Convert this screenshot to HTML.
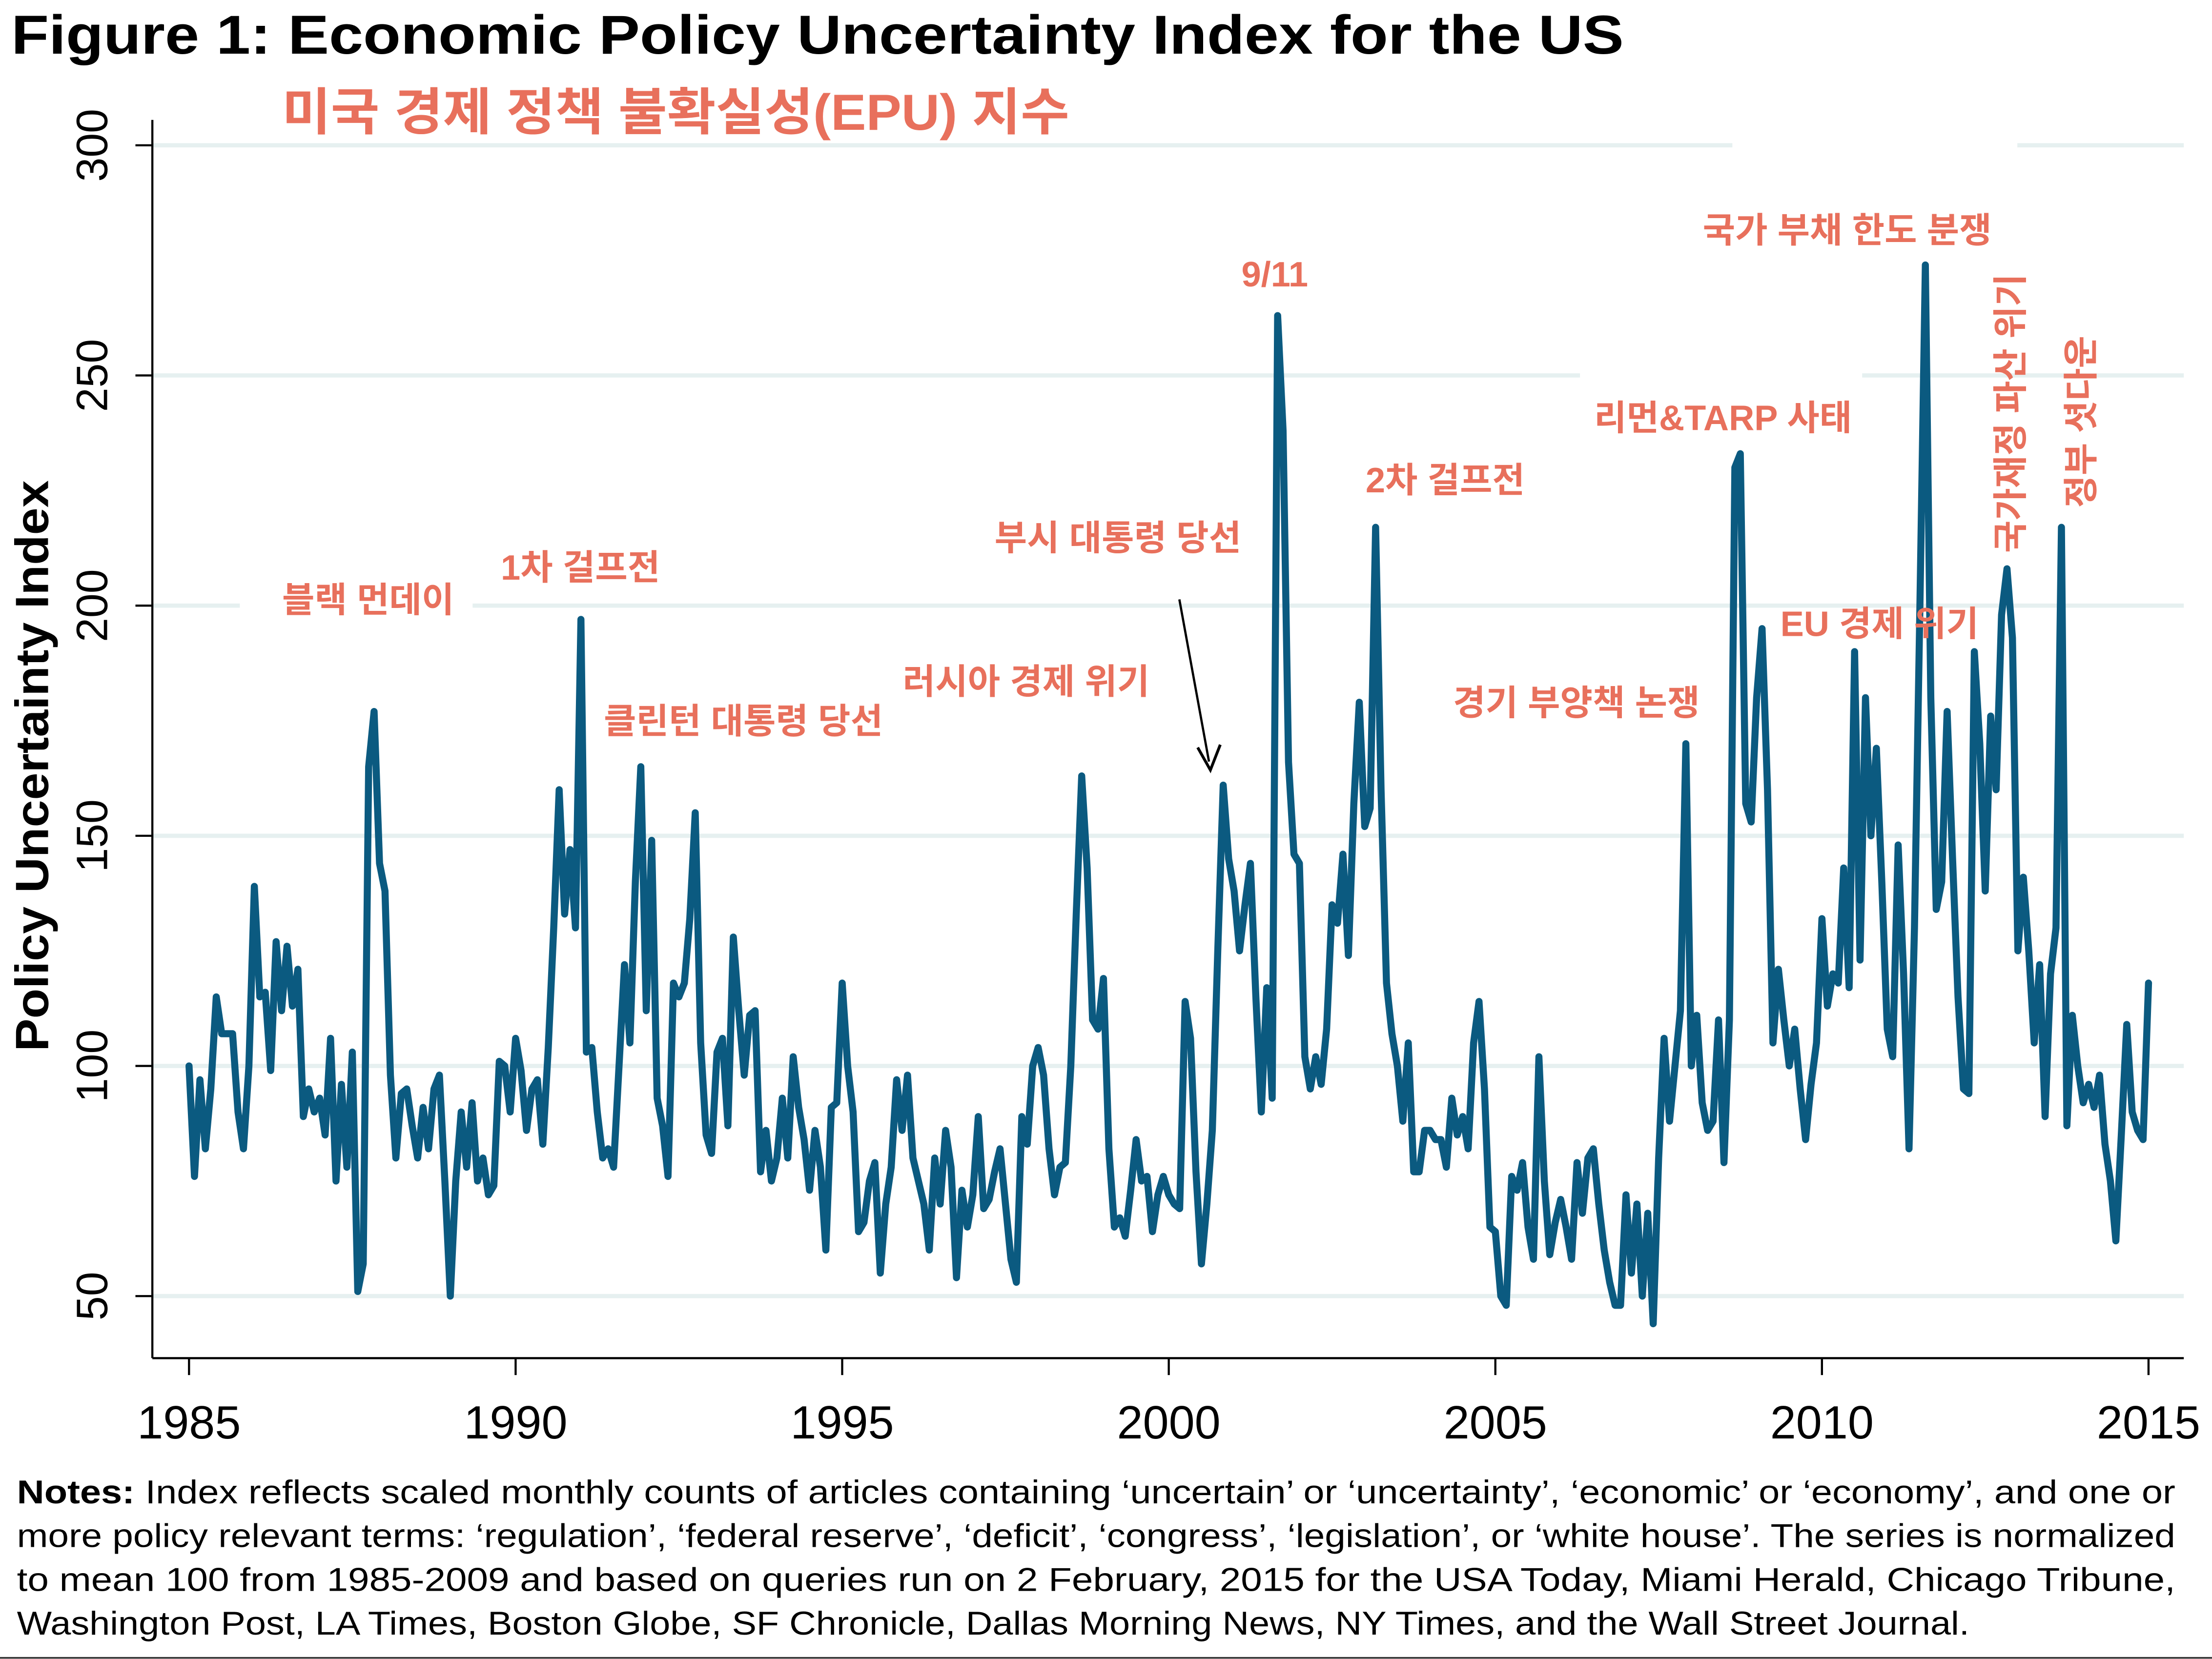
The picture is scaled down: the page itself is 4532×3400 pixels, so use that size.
<!DOCTYPE html>
<html><head><meta charset="utf-8"><style>
html,body{margin:0;padding:0;background:#fff;}
svg{display:block;}
text{font-family:"Liberation Sans","Noto Sans CJK KR",sans-serif;}
.ann{fill:#E8705C;font-weight:bold;font-size:25px;}
</style></head><body>
<svg id="chart" width="4532" height="3400" viewBox="0 0 1568 1176.3" xmlns="http://www.w3.org/2000/svg">
<rect x="0" y="0" width="1568" height="1176.3" fill="#fff"/>
<text x="8" y="38" font-size="39" font-weight="bold" textLength="1143" lengthAdjust="spacingAndGlyphs">Figure 1: Economic Policy Uncertainty Index for the US</text>
<text x="200" y="92" font-size="36" font-weight="bold" fill="#E8705C" textLength="558" lengthAdjust="spacingAndGlyphs">미국 경제 정책 불확실성(EPU) 지수</text>
<g id="grid"></g>
<g id="gaps">
<rect x="1228" y="98" width="202" height="10" fill="#fff"/>
<rect x="1120" y="262" width="200" height="10" fill="#fff"/>
<rect x="170" y="425" width="165" height="10" fill="#fff"/>
</g>
<g id="axes"></g>
<polyline id="series" fill="none" stroke="#0B5A80" stroke-width="5" stroke-linejoin="round" stroke-linecap="round"/>
<g>
<text class="ann" x="200" y="434">블랙 먼데이</text>
<text class="ann" x="355" y="411">1차 걸프전</text>
<text class="ann" x="428" y="520">클린턴 대통령 당선</text>
<text class="ann" x="640" y="492">러시아 경제 위기</text>
<text class="ann" x="705" y="390">부시 대통령 당선</text>
<text class="ann" x="880" y="203">9/11</text>
<text class="ann" x="968" y="349">2차 걸프전</text>
<text class="ann" x="1030" y="507">경기 부양책 논쟁</text>
<text class="ann" x="1130" y="305">리먼&amp;TARP 사태</text>
<text class="ann" x="1262" y="451">EU 경제 위기</text>
<text class="ann" x="1207" y="172">국가 부채 한도 분쟁</text>
<text class="ann" transform="translate(1434,392) rotate(-90)">국가재정 파산 위기</text>
<text class="ann" transform="translate(1484,360) rotate(-90)">정부 셧다운</text>
<line x1="836" y1="425" x2="857" y2="540" stroke="#000" stroke-width="1.6"/>
<polyline points="849,530 858,546 865,528" fill="none" stroke="#000" stroke-width="2"/>
</g>
<text transform="translate(34,543) rotate(-90)" text-anchor="middle" font-size="33" font-weight="bold" textLength="405" lengthAdjust="spacingAndGlyphs">Policy Uncertainty Index</text>
<g font-size="23.5">
<text x="12" y="1066" textLength="1530" lengthAdjust="spacingAndGlyphs"><tspan font-weight="bold">Notes:</tspan> Index reflects scaled monthly counts of articles containing ‘uncertain’ or ‘uncertainty’, ‘economic’ or ‘economy’, and one or</text>
<text x="12" y="1097" textLength="1530" lengthAdjust="spacingAndGlyphs">more policy relevant terms: ‘regulation’, ‘federal reserve’, ‘deficit’, ‘congress’, ‘legislation’, or ‘white house’. The series is normalized</text>
<text x="12" y="1128" textLength="1530" lengthAdjust="spacingAndGlyphs">to mean 100 from 1985-2009 and based on queries run on 2 February, 2015 for the USA Today, Miami Herald, Chicago Tribune,</text>
<text x="12" y="1159" textLength="1384" lengthAdjust="spacingAndGlyphs">Washington Post, LA Times, Boston Globe, SF Chronicle, Dallas Morning News, NY Times, and the Wall Street Journal.</text>
</g>
<line x1="0" y1="1175.5" x2="1568" y2="1175.5" stroke="#333" stroke-width="1.2"/>
</svg>
<script>
const yTicks = [50, 100, 150, 200, 250, 300];
const xTicks = [1985, 1990, 1995, 2000, 2005, 2010, 2015];
const startYear = 1985;
const epu1985_1994 = [
100,76,97,82,95,115,107,107,107,90,82,100,
139,115,116,99,127,112,126,113,121,89,95,90,
93,85,106,75,96,78,103,51,57,165,177,144,
138,98,80,94,95,87,80,91,82,95,98,75,
50,75,90,78,92,75,80,72,74,101,100,90,
106,99,86,95,97,83,104,130,160,133,147,130,
197,103,104,90,80,82,78,100,122,105,140,165,
112,149,93,87,76,118,115,118,132,155,105,85,
81,103,106,87,128,112,98,111,112,77,86,75,
80,93,80,102,91,84,73,86,78,60,91,92];
const epu1995_2004 = [
118,100,90,64,66,75,79,55,70,78,97,86,
98,80,75,70,60,80,70,86,78,54,73,65,
72,89,69,71,77,82,70,58,53,89,83,100,
104,98,82,72,78,79,100,133,163,143,110,108,
119,82,65,67,63,73,84,75,76,64,72,76,
72,70,69,114,106,77,57,70,86,125,161,145,
138,125,135,144,115,90,117,93,263,238,166,146,
144,102,95,102,96,108,135,131,146,124,157,179,
152,156,217,160,118,107,100,88,105,77,77,86,
86,84,84,78,93,85,89,82,105,114,95,65];
const epu2005_2015 = [
64,50,48,76,73,79,65,58,102,75,59,66,
71,65,58,79,68,80,82,70,60,53,48,48,
72,55,70,50,68,44,80,106,88,100,112,170,
100,111,92,86,88,110,79,110,230,233,157,153,
180,195,160,105,121,110,100,108,95,84,96,105,
132,113,120,118,143,117,190,123,180,150,169,140,
108,102,148,120,82,130,200,274,180,134,140,177,
145,115,95,94,190,170,138,176,160,198,208,193,
125,141,125,105,122,89,120,130,217,87,111,100,
92,96,91,98,83,75,62,85,109,90,86,84,
118];
const epu = epu1985_1994.concat(epu1995_2004, epu2005_2015);

const NS = "http://www.w3.org/2000/svg";
const xScale = yr => 134 + (yr - 1985) * (1523 - 134) / 30;
const yScale = v => 103 + (300 - v) * (919 - 103) / 250;
const plotL = 108, plotR = 1548, plotB = 963;

const grid = document.getElementById('grid');
yTicks.forEach(t => {
  const l = document.createElementNS(NS, 'line');
  
  
  l.setAttribute('x1', plotL); l.setAttribute('x2', plotR);
  l.setAttribute('y1', yScale(t)); l.setAttribute('y2', yScale(t));
  l.setAttribute('stroke', '#E6F0F0'); l.setAttribute('stroke-width', '3');
  grid.appendChild(l);
});
const axes = document.getElementById('axes');
function mk(tag, attrs){ const e = document.createElementNS(NS, tag); for (const k in attrs) e.setAttribute(k, attrs[k]); return e; }
const yAxis = mk('line', {x1: plotL, x2: plotL, y1: 85, y2: plotB, stroke: '#000', 'stroke-width': 1.5});


axes.appendChild(yAxis);
const xAxis = mk('line', {x1: plotL, x2: plotR, y1: plotB, y2: plotB, stroke: '#000', 'stroke-width': 1.5});


axes.appendChild(xAxis);
yTicks.forEach(t => {
  const tk = mk('line', {x1: plotL - 12, x2: plotL, y1: yScale(t), y2: yScale(t), stroke: '#000', 'stroke-width': 1.5});
  
  
  axes.appendChild(tk);
  const tx = mk('text', {transform: 'translate(76,' + yScale(t) + ') rotate(-90)', 'text-anchor': 'middle', 'font-size': '31'});
  
  
  tx.textContent = t;
  axes.appendChild(tx);
});
xTicks.forEach(t => {
  const tk = mk('line', {x1: xScale(t), x2: xScale(t), y1: plotB, y2: plotB + 12, stroke: '#000', 'stroke-width': 1.5});
  
  
  axes.appendChild(tk);
  const tx = mk('text', {x: xScale(t), y: 1020, 'text-anchor': 'middle', 'font-size': '33'});
  
  
  tx.textContent = t;
  axes.appendChild(tx);
});
const pts = epu.map((v, i) => xScale(startYear + i / 12).toFixed(2) + ',' + yScale(v).toFixed(2)).join(' ');
document.getElementById('series').setAttribute('points', pts);
</script>
</body></html>
